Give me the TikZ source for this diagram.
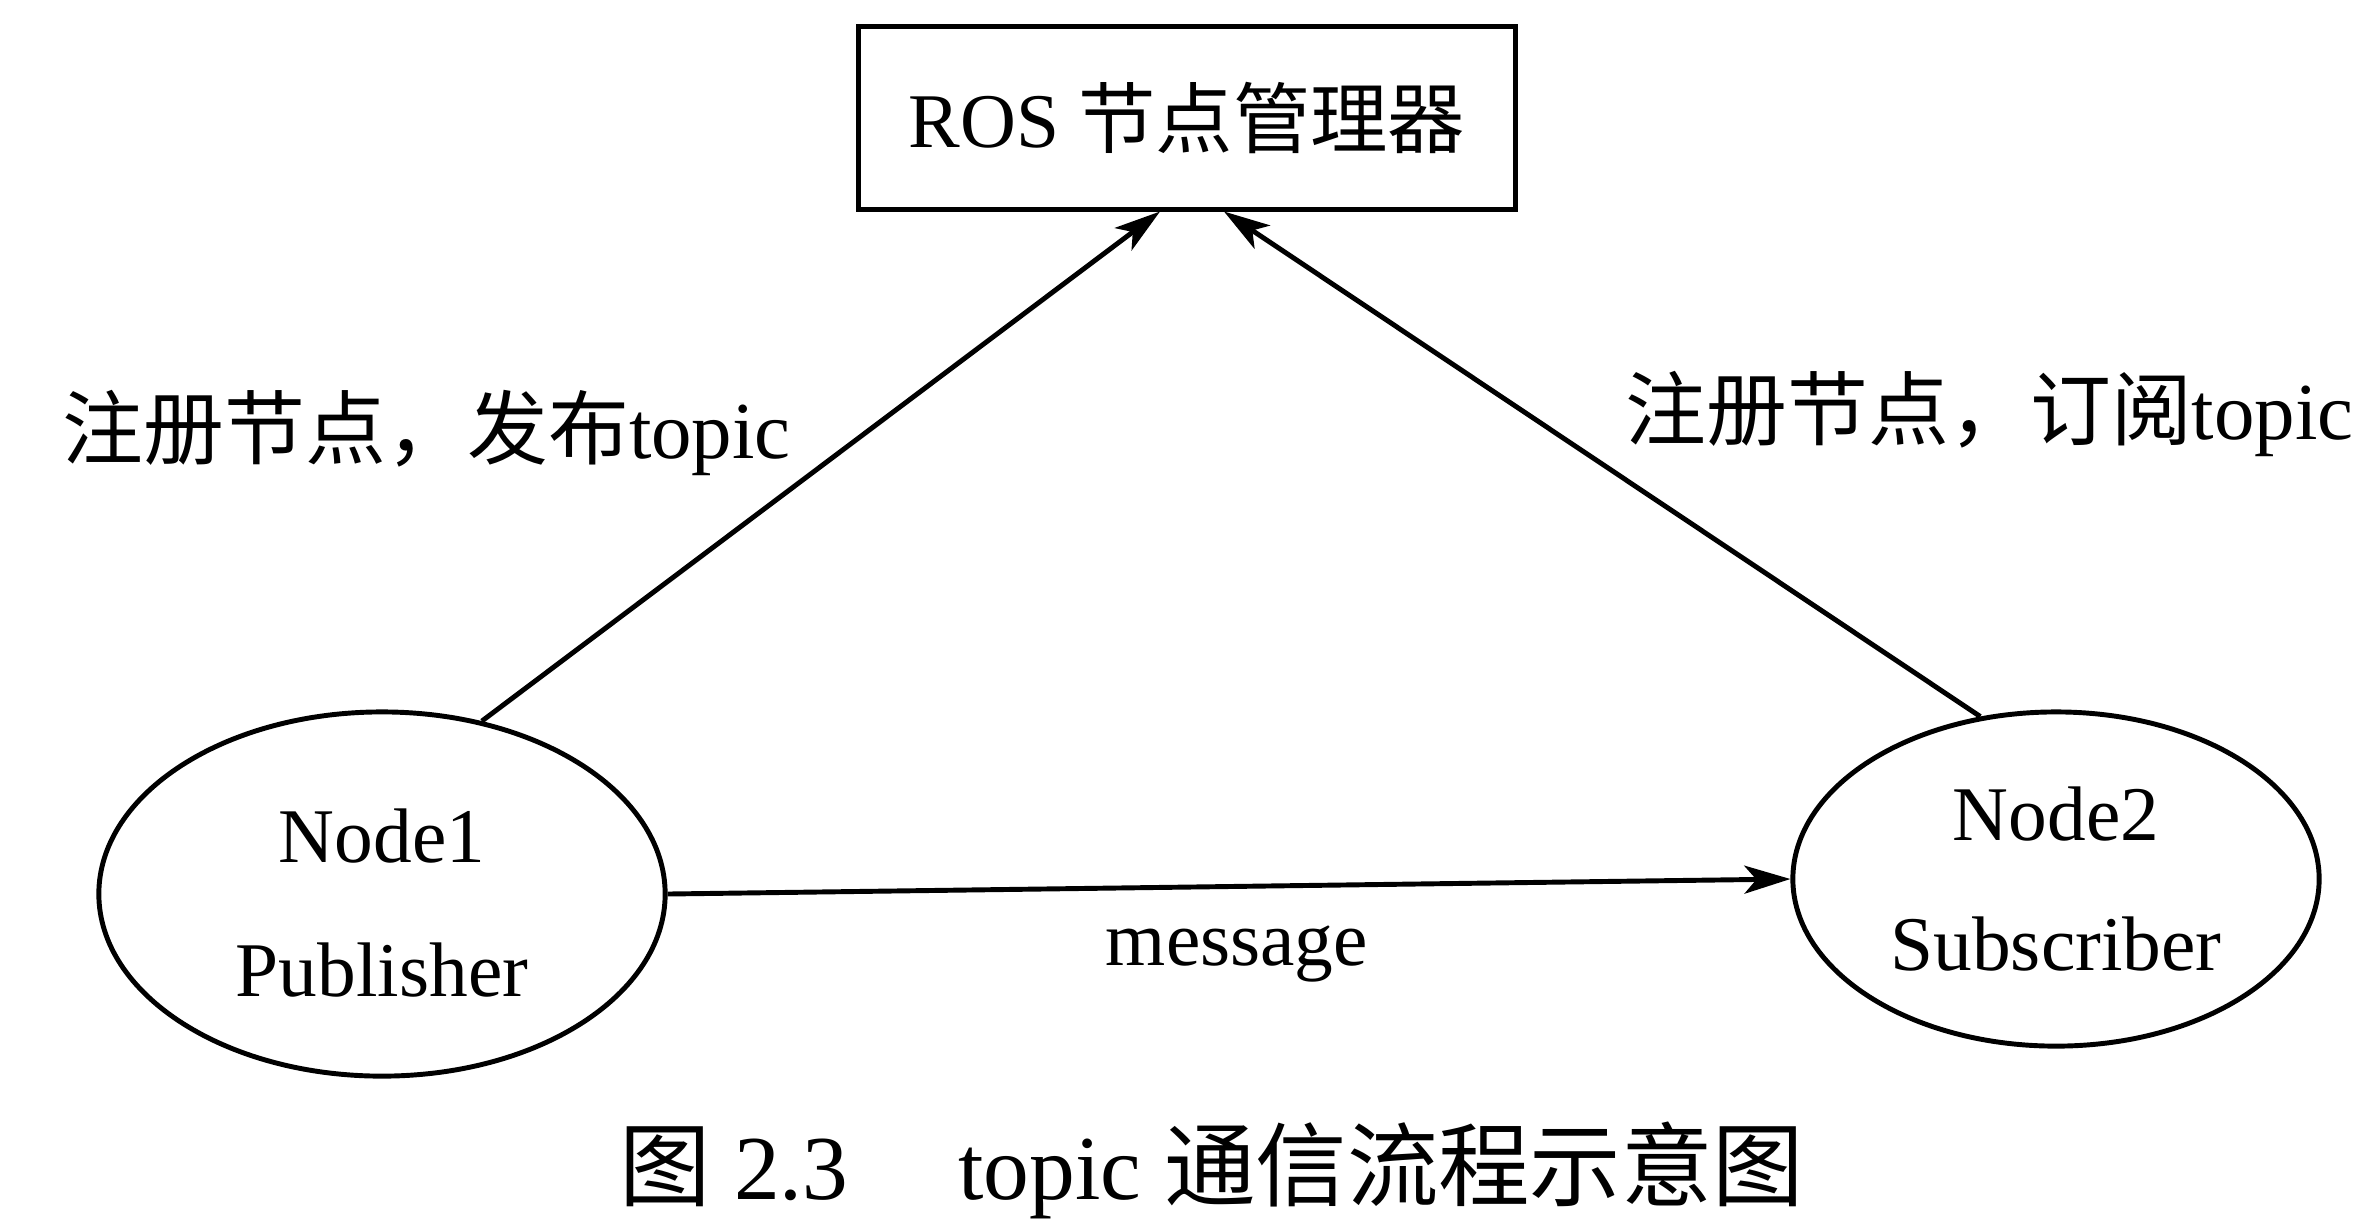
\documentclass[tikz,border=0pt]{standalone}
\usepackage{fontspec}
\setmainfont{Liberation Serif}
\newfontfamily\cjk{Noto Sans CJK SC}
\usetikzlibrary{arrows.meta,calc,shapes.geometric}

\begin{document}
\begin{tikzpicture}[->,>={Stealth[length=0.46cm,width=0.28cm,inset=0.12cm]},
                    x=0.01cm,y=-0.01cm,line width=1.4pt,
                    font=\fontsize{22}{26}\selectfont]
  \tikzstyle{every node}=[text=black]
  \tikzstyle{master}=[draw,rectangle,minimum width=6.56cm,minimum height=1.82cm,inner sep=0pt]
  \tikzstyle{ros node}=[draw,ellipse,inner sep=0pt,align=center]
  \tikzstyle{edge label}=[font=\fontsize{23}{27}\selectfont]

  \useasboundingbox (0,0) rectangle (2376,1229);

  \node[master]   (ros) at (1187,118) {ROS {\cjk 节点管理器}};
  \node[ros node,minimum width=5.66cm,minimum height=3.64cm] (pub) at (382,894)
       {\rule{0pt}{0.72cm}Node1\\[0.42cm]Publisher};
  \node[ros node,minimum width=5.26cm,minimum height=3.34cm] (sub) at (2056,879)
       {Node2\\[0.38cm]Subscriber};

  \path (pub.60)  edge node[edge label,pos=0.565,anchor=east,xshift=-0.6cm]
                       {{\cjk 注册节点，发布}topic} ($(ros.south)+(-27,0)$)
        (sub.115) edge node[edge label,pos=0.6,anchor=west,xshift=0.85cm]
                       {{\cjk 注册节点，订阅}topic} ($(ros.south)+(37,0)$)
        (pub.east) edge node[below,pos=0.507,yshift=-0.25cm] {message} (sub.west);

  \node[font=\fontsize{26}{30}\selectfont] (caption) at (1212,1170)
       {{\cjk 图} 2.3\hspace{1.1cm}topic {\cjk 通信流程示意图}};
\end{tikzpicture}
\end{document}
